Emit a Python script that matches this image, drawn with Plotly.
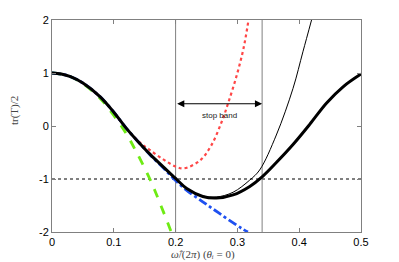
import plotly.graph_objects as go

# main (exact) curve, thick black
x_main = [0, 0.015, 0.03, 0.05, 0.078, 0.1, 0.12, 0.142, 0.16, 0.18, 0.2, 0.218,
          0.244, 0.266, 0.293, 0.32, 0.34, 0.363, 0.39, 0.417, 0.444, 0.471, 0.5]
y_main = [1, 0.98, 0.93, 0.81, 0.55, 0.26, -0.04, -0.33, -0.55, -0.77, -0.99, -1.18,
          -1.33, -1.36, -1.30, -1.14, -0.96, -0.69, -0.35, 0.03, 0.43, 0.74, 0.98]

# thin black approximation
x_thin = [0, 0.015, 0.03, 0.05, 0.078, 0.1, 0.12, 0.142, 0.16, 0.18, 0.2, 0.218,
          0.244, 0.266, 0.293, 0.32, 0.336, 0.363, 0.39, 0.406, 0.42]
y_thin = [1, 0.98, 0.93, 0.81, 0.55, 0.26, -0.04, -0.33, -0.55, -0.77, -0.99, -1.18,
          -1.32, -1.34, -1.25, -1.02, -0.83, -0.17, 0.71, 1.40, 2.0]

# red dotted approximation
x_red = [0, 0.015, 0.03, 0.05, 0.078, 0.1, 0.12, 0.142, 0.158, 0.18, 0.199, 0.213,
         0.2395, 0.258, 0.2746, 0.285, 0.299, 0.31, 0.318]
y_red = [1, 0.98, 0.93, 0.81, 0.55, 0.26, -0.04, -0.31, -0.45, -0.63, -0.76, -0.80,
         -0.65, -0.36, 0.08, 0.43, 0.96, 1.47, 2.0]

# green dashed approximation
x_green = [0, 0.015, 0.03, 0.05, 0.078, 0.1, 0.12, 0.137, 0.158, 0.1745, 0.193]
y_green = [1, 0.98, 0.93, 0.80, 0.52, 0.20, -0.14, -0.50, -0.99, -1.45, -2.0]

# blue dash-dot approximation
x_blue = [0, 0.015, 0.03, 0.05, 0.078, 0.1, 0.12, 0.142, 0.16, 0.18, 0.2, 0.2175,
          0.244, 0.271, 0.3065, 0.317]
y_blue = [1, 0.98, 0.93, 0.81, 0.55, 0.26, -0.04, -0.33, -0.56, -0.79, -1.03, -1.21,
          -1.43, -1.65, -1.93, -2.0]

band_edges = [0.2, 0.34]
x_ticks = [0, 0.1, 0.2, 0.3, 0.4, 0.5]
y_ticks = [-2, -1, 0, 1, 2]

x_title = "<i>ω̂</i>/(2<i>π</i>) (<i>θᵢ</i> = 0)"
y_title = "tr(T)/2"

fig = go.Figure()

fig.add_trace(go.Scatter(x=[0, 0.5], y=[-1, -1], mode="lines",
                         line=dict(color="black", width=1, dash="dot"), hoverinfo="skip"))
for xe in band_edges:
    fig.add_trace(go.Scatter(x=[xe, xe], y=[-2, 2], mode="lines",
                             line=dict(color="#808080", width=1), hoverinfo="skip"))

fig.add_trace(go.Scatter(x=x_red, y=y_red, mode="lines", line_shape="spline",
                         line=dict(color="rgb(255,70,70)", width=2.2, dash="dot")))
fig.add_trace(go.Scatter(x=x_green, y=y_green, mode="lines", line_shape="spline",
                         line=dict(color="rgb(110,235,20)", width=2.8, dash="dash")))
fig.add_trace(go.Scatter(x=x_blue, y=y_blue, mode="lines", line_shape="spline",
                         line=dict(color="rgb(30,80,240)", width=2.8, dash="dashdot")))
fig.add_trace(go.Scatter(x=x_thin, y=y_thin, mode="lines", line_shape="spline",
                         line=dict(color="black", width=1)))
fig.add_trace(go.Scatter(x=x_main, y=y_main, mode="lines", line_shape="spline",
                         line=dict(color="black", width=3)))

fig.add_annotation(x=band_edges[1], y=0.42, ax=band_edges[0], ay=0.42,
                   xref="x", yref="y", axref="x", ayref="y", text="",
                   showarrow=True, arrowhead=2, startarrowhead=2, arrowside="end+start",
                   arrowsize=1.2, arrowwidth=1.2, arrowcolor="black")
fig.add_annotation(x=0.271, y=0.2, xref="x", yref="y", text="stop band", showarrow=False,
                   font=dict(family="Liberation Sans, Arial", size=8, color="#222"))

# axis titles placed as annotations to match reference positions
fig.add_annotation(x=0.489, y=-0.106, xref="paper", yref="paper", text=x_title,
                   showarrow=False, xanchor="center", yanchor="middle",
                   font=dict(family="Liberation Serif, DejaVu Serif", size=11, color="#444"))
fig.add_annotation(x=-0.123, y=0.575, xref="paper", yref="paper", text=y_title,
                   showarrow=False, textangle=-90, xanchor="center", yanchor="middle",
                   font=dict(family="Liberation Serif, DejaVu Serif", size=11, color="#444"))

axis_common = dict(showgrid=False, zeroline=False, showline=True, linecolor="#808080",
                   linewidth=1, mirror="ticks", ticks="inside", ticklen=4,
                   tickcolor="#808080", automargin=False,
                   tickfont=dict(family="Liberation Sans, Arial", size=11, color="black"))

fig.update_xaxes(range=[0, 0.5], tickvals=x_ticks, ticktext=[str(t) if t else "0" for t in x_ticks],
                 **axis_common)
fig.update_yaxes(range=[-2, 2], tickvals=y_ticks, ticktext=[str(t) for t in y_ticks],
                 **axis_common)

# page body has an 8px margin, so the figure is shifted by 8px; compensate
fig.update_layout(width=391, height=254, margin=dict(l=44, r=38, t=12, b=30),
                  plot_bgcolor="white", paper_bgcolor="white", showlegend=False)

fig.write_html("out.html")
